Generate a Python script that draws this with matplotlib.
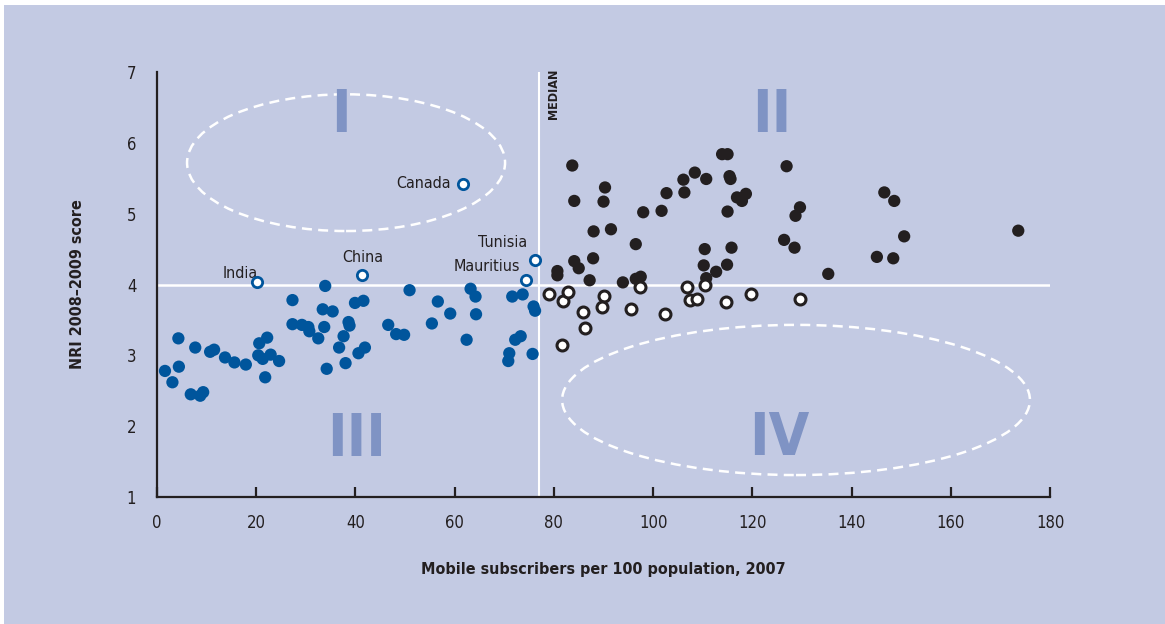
import matplotlib.pyplot as plt
from matplotlib.patches import Ellipse, Rectangle
from matplotlib import font_manager

# font: condensed if we have one
names = {f.name for f in font_manager.fontManager.ttflist}
FONT = "Liberation Sans Narrow" if "Liberation Sans Narrow" in names else "DejaVu Sans"
plt.rcParams['font.family'] = [FONT, 'DejaVu Sans']
plt.rcParams['font.stretch'] = 'condensed'

BG = "#c3cae3"
BLUE = "#00559c"
DARK = "#231f20"
ROMAN = "#7f93c4"

# Group III / I : low mobile penetration (blue)
blue_x = [1.6, 4.3, 4.4, 3.1, 6.8, 8.7, 9.3, 7.7, 10.7, 11.5, 13.7, 15.6, 17.9, 20.6, 22.2,
          20.4, 21.3, 22.9, 24.6, 21.8, 27.3, 27.3, 29.2, 30.5, 30.7, 32.5, 33.9, 33.4, 35.4,
          33.7, 34.2, 38.6, 38.8, 37.6, 36.7, 38.0, 39.9, 41.6, 40.6, 41.9, 46.6, 48.2, 49.8,
          50.9, 55.4, 56.6, 59.1, 62.4, 63.2, 64.2, 64.3, 71.6, 73.7, 72.2, 73.3, 71.0, 70.8,
          75.9, 76.2, 75.7]
blue_y = [2.78, 3.24, 2.84, 2.62, 2.45, 2.43, 2.48, 3.11, 3.05, 3.08, 2.97, 2.90, 2.87, 3.17, 3.25,
          3.00, 2.95, 3.01, 2.92, 2.69, 3.78, 3.44, 3.43, 3.40, 3.34, 3.24, 3.98, 3.65, 3.62,
          3.40, 2.81, 3.47, 3.42, 3.27, 3.11, 2.89, 3.74, 3.77, 3.03, 3.11, 3.43, 3.30, 3.29,
          3.92, 3.45, 3.76, 3.59, 3.22, 3.94, 3.83, 3.58, 3.83, 3.86, 3.22, 3.27, 3.03, 2.92,
          3.69, 3.63, 3.02]

# labelled economies (open blue)
named = ["India", "China", "Canada", "Tunisia", "Mauritius"]
named_x = [20.1, 41.4, 61.7, 76.1, 74.3]
named_y = [4.03, 4.14, 5.42, 4.34, 4.06]

# Group II : high mobile, high NRI (black)
black_x = [83.7, 84.1, 90.3, 90.0, 88.0, 91.5, 98.0, 101.7, 102.7, 106.1, 106.3, 108.4, 110.7,
           113.9, 115.0, 115.4, 115.6, 116.9, 117.9, 118.7, 115.0, 126.9, 129.6, 128.7, 126.4,
           128.5, 135.3, 96.5, 110.4, 115.8, 110.2, 114.9, 112.7, 110.7, 87.9, 84.1, 85.0,
           80.7, 80.7, 87.2, 93.9, 96.5, 97.5, 146.6, 148.6, 150.6, 145.1, 148.4, 173.6]
black_y = [5.68, 5.18, 5.37, 5.17, 4.75, 4.78, 5.02, 5.04, 5.29, 5.48, 5.30, 5.58, 5.49,
           5.84, 5.84, 5.53, 5.49, 5.23, 5.18, 5.28, 5.03, 5.67, 5.09, 4.97, 4.63,
           4.52, 4.15, 4.57, 4.50, 4.52, 4.27, 4.28, 4.18, 4.09, 4.37, 4.33, 4.23,
           4.19, 4.13, 4.06, 4.03, 4.08, 4.11, 5.30, 5.18, 4.68, 4.39, 4.37, 4.76]

# high mobile, below-median NRI (open black)
open_x = [79.0, 81.8, 82.9, 85.8, 86.2, 81.6, 90.1, 89.6, 95.6, 97.4, 102.3, 106.8, 107.4,
          108.8, 110.5, 114.7, 119.7, 129.7]
open_y = [3.86, 3.77, 3.90, 3.61, 3.38, 3.15, 3.84, 3.68, 3.66, 3.97, 3.58, 3.97, 3.78,
          3.80, 3.99, 3.76, 3.87, 3.80]

median_x = 77.0
nri_mid = 4.0

fig = plt.figure(figsize=(11.65, 6.24), dpi=100)
fig.patch.set_facecolor("white")
fig.add_artist(Rectangle((0.0035, 0), 0.9965, 0.992, transform=fig.transFigure,
                         facecolor=BG, edgecolor="none", zorder=-10))

ax = fig.add_axes([0.1348, 0.2035, 0.7665, 0.6811])
ax.set_facecolor(BG)
ax.patch.set_alpha(0)
ax.set_xlim(0, 180)
ax.set_ylim(1, 7)

for s in ["top", "right"]:
    ax.spines[s].set_visible(False)
for s in ["left", "bottom"]:
    ax.spines[s].set_color(DARK)
    ax.spines[s].set_linewidth(1.6)

ax.set_xticks(range(0, 181, 20))
ax.set_yticks(range(1, 8))
ax.tick_params(axis="x", direction="in", length=7, width=1.6, color=DARK, pad=12,
               labelsize=12, labelcolor=DARK)
ax.tick_params(axis="y", length=0, pad=15, labelsize=12, labelcolor=DARK)

ax.set_xlabel("Mobile subscribers per 100 population, 2007", fontsize=11.5,
              fontweight="bold", color=DARK, labelpad=22)
ax.set_ylabel("NRI 2008\u20132009 score", fontsize=11.5, fontweight="bold",
              color=DARK, labelpad=30)

# median + mean lines
ax.plot([0, 180], [nri_mid, nri_mid], color="white", lw=1.8, zorder=1)
ax.plot([median_x, median_x], [1, 7], color="white", lw=1.5, zorder=1)
ax.text(median_x + 3.0, 7.05, "MEDIAN", rotation=90, ha="center", va="top",
        fontsize=9, fontweight="bold", color=DARK)

# quadrant ellipses
ax.add_patch(Ellipse((38.1, 5.72), 64.1, 1.93, fill=False, edgecolor="white",
                     lw=1.8, ls=(0, (4, 2.5)), zorder=1))
ax.add_patch(Ellipse((128.8, 2.37), 94.3, 2.12, fill=False, edgecolor="white",
                     lw=1.8, ls=(0, (4, 2.5)), zorder=1))

# roman numerals
for t, x, y in [("I", 37.0, 6.39), ("II", 124.0, 6.39), ("III", 40.3, 1.81), ("IV", 125.4, 1.83)]:
    ax.text(x, y, t, ha="center", va="center", fontsize=42, fontweight="bold",
            color=ROMAN, zorder=1)

ax.scatter(blue_x, blue_y, s=78, color=BLUE, edgecolors="none", zorder=3)
ax.scatter(black_x, black_y, s=78, color=DARK, edgecolors="none", zorder=3)
ax.scatter(open_x, open_y, s=62, facecolor="white", edgecolors=DARK, linewidths=2.2, zorder=4)
ax.scatter(named_x, named_y, s=55, facecolor="white", edgecolors=BLUE, linewidths=2.0, zorder=4)

# country labels
ax.text(named_x[0] - 3.4, named_y[0] + 0.13, named[0], ha="center", va="center",
        fontsize=11.5, color=DARK)
ax.text(named_x[1], named_y[1] + 0.24, named[1], ha="center", va="center",
        fontsize=11.5, color=DARK)
ax.text(named_x[2] - 2.4, named_y[2], named[2], ha="right", va="center",
        fontsize=11.5, color=DARK)
ax.text(named_x[3] - 1.5, named_y[3] + 0.25, named[3], ha="right", va="center",
        fontsize=11.5, color=DARK)
ax.text(named_x[4] - 1.1, named_y[4] + 0.19, named[4], ha="right", va="center",
        fontsize=11.5, color=DARK)

fig.savefig("out.png", dpi=100, facecolor=fig.get_facecolor())
